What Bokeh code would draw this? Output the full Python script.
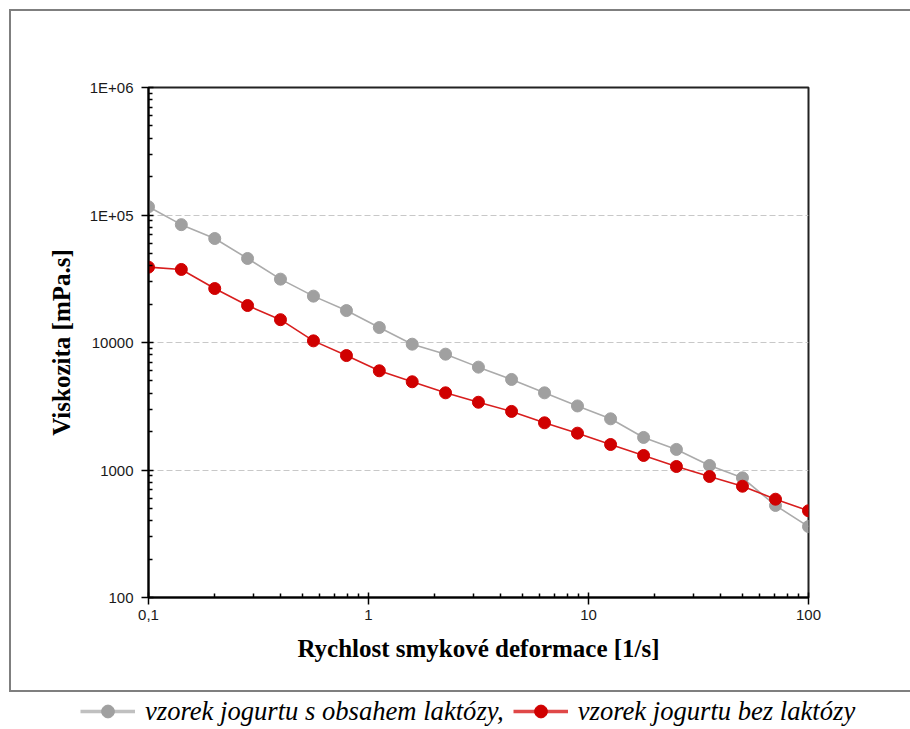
from bokeh.plotting import figure
from bokeh.models import FixedTicker, Legend, LegendItem, Range1d
from bokeh.embed import file_html
from bokeh.resources import INLINE

# ---- data ----
shear_rate = [0.1, 0.141, 0.2, 0.282, 0.398, 0.562, 0.794, 1.12, 1.58, 2.24, 3.16,
              4.47, 6.31, 8.91, 12.6, 17.8, 25.1, 35.5, 50.1, 70.8, 100]
visc_lactose = [116000, 84000, 65400, 45600, 31400, 23100, 17800, 13100, 9700, 8100, 6410,
                5130, 4030, 3180, 2520, 1800, 1450, 1085, 868, 527, 360]
visc_lactose_free = [39000, 37400, 26500, 19500, 15100, 10300, 7900, 6000, 4920, 4030, 3400,
                     2880, 2345, 1945, 1585, 1300, 1065, 889, 746, 590, 479]

series_labels = ["vzorek jogurtu s obsahem laktózy,", "vzorek jogurtu bez laktózy"]

x_tick_values = [0.1, 1, 10, 100]
x_tick_labels = ["0,1", "1", "10", "100"]
y_tick_values = [100, 1000, 10000, 100000, 1000000]
y_tick_labels = ["100", "1000", "10000", "1E+05", "1E+06"]

x_title = "Rychlost smykové deformace [1/s]"
y_title = "Viskozita [mPa.s]"

GRAY_LINE = "#ababab"
GRAY_PT = "#a0a0a0"
RED_LINE = "#d81e1e"
RED_PT = "#d00000"
BOX = "#7f7f7f"

p = figure(frame_width=660, frame_height=510, x_axis_type="log", y_axis_type="log",
           x_range=Range1d(0.1, 100), y_range=Range1d(100, 1e6),
           output_backend="svg", toolbar_location=None,
           min_border_left=137, min_border_top=76, min_border_right=102, min_border_bottom=93,
           margin=(9, 0, 0, 9),
           styles={"border-left": "2px solid " + BOX, "border-top": "2px solid " + BOX})
p.background_fill_color = "white"
p.border_fill_color = "white"
p.outline_line_color = "#222222"
p.outline_line_width = 2

p.line(shear_rate, visc_lactose, line_color=GRAY_LINE, line_width=1.6)
p.scatter(shear_rate, visc_lactose, size=12, fill_color=GRAY_PT, line_color=GRAY_PT)
p.line(shear_rate, visc_lactose_free, line_color=RED_LINE, line_width=1.6)
p.scatter(shear_rate, visc_lactose_free, size=12, fill_color=RED_PT, line_color=RED_PT)

x_minor = [m * 10.0 ** e for e in range(-1, 2) for m in range(2, 10)]
y_minor = [m * 10.0 ** e for e in range(2, 6) for m in range(2, 10)]
p.xaxis.ticker = FixedTicker(ticks=x_tick_values, minor_ticks=x_minor)
p.yaxis.ticker = FixedTicker(ticks=y_tick_values, minor_ticks=y_minor)
p.xaxis.major_label_overrides = dict(zip(x_tick_values, x_tick_labels))
p.yaxis.major_label_overrides = dict(zip(y_tick_values, y_tick_labels))

for ax in (p.xaxis, p.yaxis):
    ax.axis_line_color = "black"
    ax.axis_line_width = 2
    ax.major_tick_line_color = "black"
    ax.major_tick_line_width = 1.5
    ax.minor_tick_line_color = "black"
    ax.minor_tick_line_width = 1.5
    ax.major_tick_in = 5
    ax.major_tick_out = 7
    ax.minor_tick_in = 4
    ax.minor_tick_out = 0
    ax.major_label_text_font = "Liberation Sans"
    ax.major_label_text_font_size = "15px"
    ax.major_label_text_color = "#1a1a1a"
    ax.axis_label_text_font = "Liberation Serif"
    ax.axis_label_text_font_style = "bold"
    ax.axis_label_text_font_size = "25px"
    ax.axis_label_text_color = "black"

p.xaxis.axis_label = x_title
p.yaxis.axis_label = y_title
p.xaxis.major_label_standoff = 5
p.yaxis.major_label_standoff = 8
p.xaxis.axis_label_standoff = 12
p.yaxis.axis_label_standoff = 12

p.xgrid.visible = False
p.ygrid.grid_line_color = "#c8c8c8"
p.ygrid.grid_line_dash = "6 3"
p.ygrid.grid_line_width = 1

# ---- legend strip below the box (separate root, so its frame is not aligned) ----
lg = figure(width=901, height=37, x_range=Range1d(-10, -9), y_range=Range1d(-10, -9),
            output_backend="svg", toolbar_location=None, min_border=0,
            margin=(0, 0, 0, 9), styles={"border-top": "2px solid " + BOX})
lg.axis.visible = False
lg.grid.visible = False
lg.outline_line_color = None
lg.background_fill_color = "white"
lg.border_fill_color = "white"

gl = lg.line(shear_rate, visc_lactose, line_color="#c0c0c0", line_width=3.5)
gs = lg.scatter(shear_rate, visc_lactose, size=16, fill_color=GRAY_PT, line_color=GRAY_PT)
rl = lg.line(shear_rate, visc_lactose_free, line_color="#e04848", line_width=3.5)
rs = lg.scatter(shear_rate, visc_lactose_free, size=16, fill_color=RED_PT, line_color=RED_PT)

legend = Legend(items=[LegendItem(label=series_labels[0], renderers=[gl, gs]),
                       LegendItem(label=series_labels[1], renderers=[rl, rs])],
                orientation="horizontal", location=(71, 2),
                glyph_width=55, glyph_height=32, label_standoff=10, spacing=9,
                padding=0, margin=0, border_line_color=None, background_fill_alpha=0,
                label_text_font="Liberation Serif", label_text_font_style="italic",
                label_text_font_size="26.6px", label_text_color="black")
lg.add_layout(legend, "center")

open("out.html", "w").write(file_html([p, lg], INLINE))
